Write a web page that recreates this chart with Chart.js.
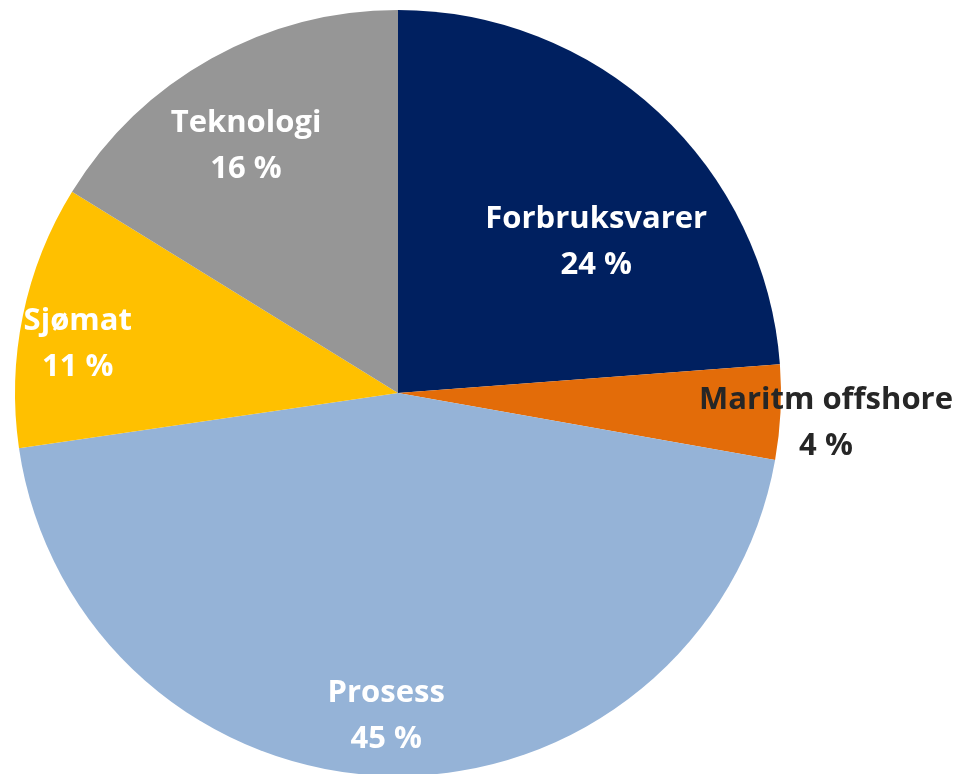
<!DOCTYPE html>
<html>
<head>
<meta charset="utf-8">
<script src="https://cdn.jsdelivr.net/npm/chart.js@4/dist/chart.umd.min.js"></script>
<style>
  html, body { margin: 0; padding: 0; background: #ffffff; }
  #wrap { width: 959px; height: 774px; position: relative; }
</style>
</head>
<body>
<div id="wrap"><canvas id="c" width="959" height="774"></canvas></div>
<script>
// Data
const categories = ["Forbruksvarer", "Maritm offshore", "Prosess", "Sjømat", "Teknologi"];
const shares = [23.8, 4.0, 44.9, 11.1, 16.2];
const sliceColors = ["#002060", "#E36C09", "#95B3D7", "#FFC000", "#969696"];
const labelColors = ["#FFFFFF", "#262626", "#FFFFFF", "#FFFFFF", "#FFFFFF"];
// label placement: radial factor (of radius) and angle shift (deg) from slice mid-angle
const labelRadial = [0.652, 1.12, 0.841, 0.846, 0.758];
const labelShift = [9.7, 1.0, 1.2, -2.9, -2.4];

const labelPlugin = {
  id: 'sliceLabels',
  afterDatasetsDraw(chart) {
    const ctx = chart.ctx;
    const meta = chart.getDatasetMeta(0);
    ctx.save();
    ctx.font = "bold 31px 'Open Sans', Lato, sans-serif";
    ctx.textAlign = 'center';
    ctx.textBaseline = 'middle';
    meta.data.forEach((arc, i) => {
      const p = arc.getProps(['x', 'y', 'startAngle', 'endAngle', 'outerRadius'], true);
      const mid = (p.startAngle + p.endAngle) / 2 + labelShift[i] * Math.PI / 180;
      const r = p.outerRadius * labelRadial[i];
      const cx = p.x + Math.cos(mid) * r;
      const cy = p.y + Math.sin(mid) * r;
      ctx.fillStyle = labelColors[i];
      const pct = Math.round(shares[i]) + ' %';
      ctx.fillText(categories[i], cx, cy - 22);
      ctx.fillText(pct, cx, cy + 24);
    });
    ctx.restore();
  }
};

new Chart(document.getElementById('c'), {
  type: 'pie',
  data: {
    labels: categories,
    datasets: [{
      data: shares,
      backgroundColor: sliceColors,
      borderWidth: 0,
      radius: 383
    }]
  },
  options: {
    responsive: false,
    devicePixelRatio: 1,
    animation: false,
    layout: { padding: { left: 14, right: 177, top: 12, bottom: 0 } },
    plugins: {
      legend: { display: false },
      tooltip: { enabled: false }
    }
  },
  plugins: [labelPlugin]
});
</script>
</body>
</html>
